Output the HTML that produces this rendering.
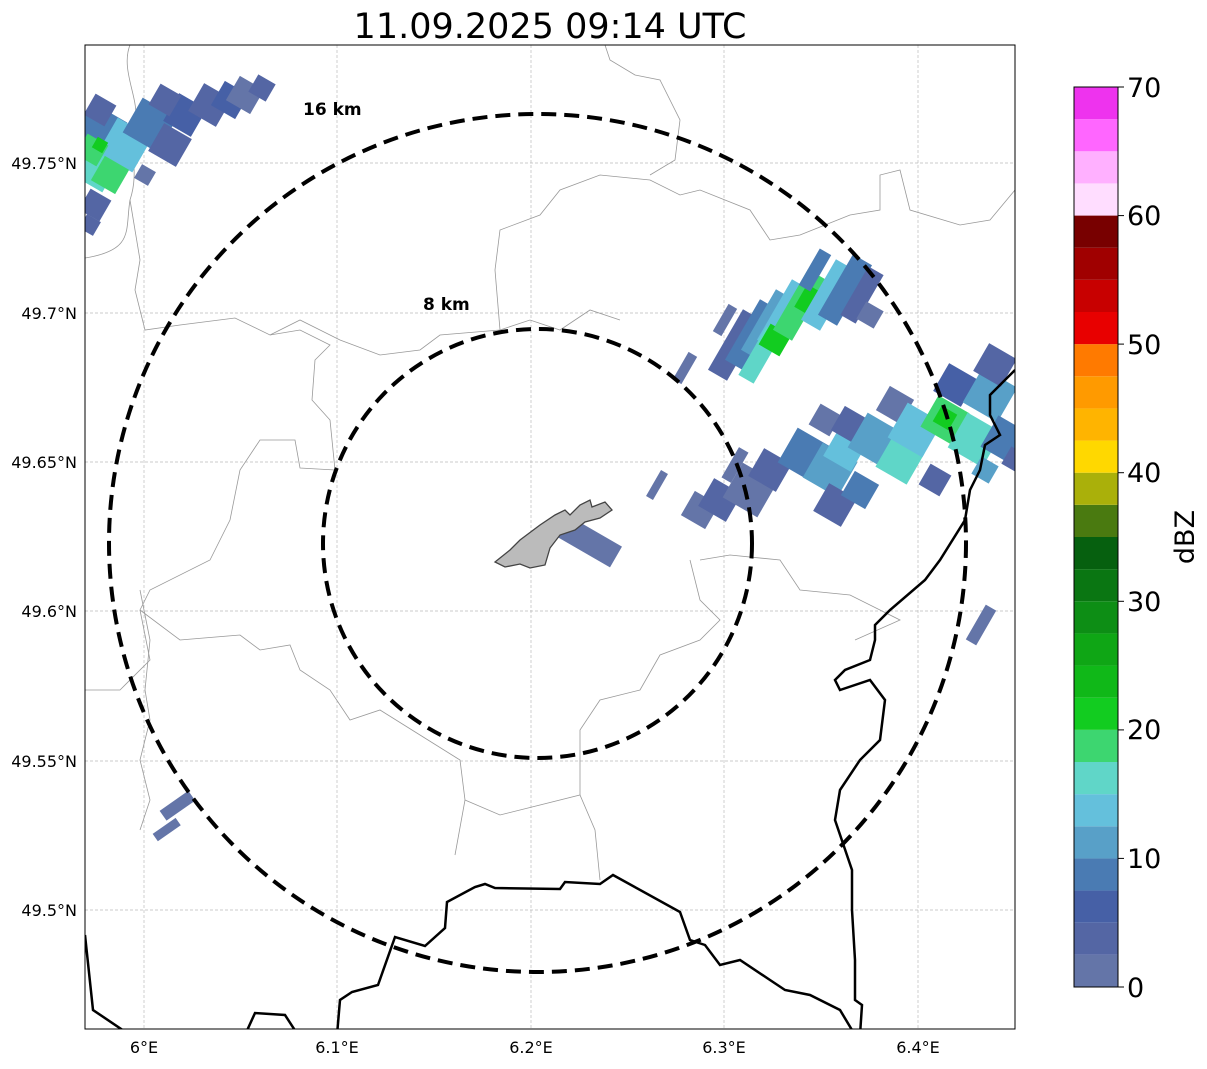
<!DOCTYPE html>
<html><head><meta charset="utf-8"><style>
body{margin:0;background:#fff;width:1207px;height:1064px;overflow:hidden}
</style></head><body>
<svg width="1207" height="1064" xmlns="http://www.w3.org/2000/svg" font-family="DejaVu Sans, Liberation Sans, sans-serif">
<text x="550" y="38" font-size="35" text-anchor="middle">11.09.2025 09:14 UTC</text>
<defs>
<clipPath id="m"><rect x="85" y="45" width="930" height="984"/></clipPath>
<rect id="s" x="-20" y="-20" width="40" height="40"/>
<rect id="t" x="-11" y="-35" width="22" height="70"/>
</defs>
<g clip-path="url(#m)">
<g stroke="#bbb" stroke-width="0.7" stroke-dasharray="3,2">
<line x1="144" y1="45" x2="144" y2="1029"/><line x1="337" y1="45" x2="337" y2="1029"/><line x1="531" y1="45" x2="531" y2="1029"/><line x1="724" y1="45" x2="724" y2="1029"/><line x1="918" y1="45" x2="918" y2="1029"/>
<line x1="85" y1="163" x2="1015" y2="163"/><line x1="85" y1="313" x2="1015" y2="313"/><line x1="85" y1="462" x2="1015" y2="462"/><line x1="85" y1="611" x2="1015" y2="611"/><line x1="85" y1="761" x2="1015" y2="761"/><line x1="85" y1="910" x2="1015" y2="910"/>
</g>
<g fill="none" stroke="#999" stroke-width="0.8">
<path d="M130,45 C120,70 140,100 135,120 C128,150 140,170 130,200 C125,230 135,250 85,258"/>
<path d="M130,200 L140,260 L135,290 L145,330 L180,325 L235,318 L270,335 L300,330 L330,345 L315,360 L312,400 L330,420 L335,470 L300,468 L295,440 L260,440 L240,470 L230,520 L210,560 L150,590 L140,610 L150,660 L120,690 L85,690"/>
<path d="M270,335 L300,320 L340,340 L380,355 L420,350 L440,335 L500,330 L530,320 L560,330 L590,310 L620,320"/>
<path d="M500,330 L495,270 L500,230 L540,215 L560,190 L600,175 L650,180 L680,195 L700,190 L750,210 L770,240 L800,235 L850,215 L880,210 L880,175 L900,170 L910,210 L960,225 L990,220 L1015,190"/>
<path d="M605,45 L610,60 L635,75 L660,80 L680,120 L675,160 L650,175"/>
<path d="M140,610 L180,640 L240,635 L260,650 L290,645 L300,670 L330,690 L350,720 L380,710 L420,735 L460,760 L465,800 L455,855"/>
<path d="M465,800 L500,815 L540,805 L580,795 L595,830 L600,880"/>
<path d="M690,560 L700,600 L720,620 L700,640 L660,655 L640,690 L600,700 L580,730 L580,795"/>
<path d="M700,560 L730,555 L780,560 L800,590 L850,595 L880,610 L900,620 L855,640"/>
<path d="M140,590 L150,640 L145,690 L150,720 L140,760 L150,800 L140,830"/>
</g>
<g>
<use href="#s" transform="translate(100,130) rotate(30)" fill="#4a7bb3"/>
<use href="#s" transform="translate(95,165) rotate(30)" fill="#5fd6c8"/>
<use href="#s" transform="translate(125,145) rotate(30)" fill="#64c0dc"/>
<use href="#s" transform="translate(92,150) rotate(30) scale(0.6)" fill="#3dd670"/>
<use href="#s" transform="translate(100,145) rotate(30) scale(0.3)" fill="#12cc20"/>
<use href="#s" transform="translate(110,175) rotate(30) scale(0.7)" fill="#3dd670"/>
<use href="#s" transform="translate(150,125) rotate(30)" fill="#4a7bb3"/>
<use href="#s" transform="translate(170,145) rotate(30) scale(0.8)" fill="#5466a4"/>
<use href="#s" transform="translate(185,115) rotate(30) scale(0.8)" fill="#4660a6"/>
<use href="#s" transform="translate(165,100) rotate(30) scale(0.6)" fill="#5466a4"/>
<use href="#s" transform="translate(210,105) rotate(30) scale(0.8)" fill="#5466a4"/>
<use href="#s" transform="translate(230,100) rotate(30) scale(0.7)" fill="#4660a6"/>
<use href="#s" transform="translate(245,95) rotate(30) scale(0.7)" fill="#6475a8"/>
<use href="#s" transform="translate(262,88) rotate(30) scale(0.5)" fill="#5466a4"/>
<use href="#s" transform="translate(95,205) rotate(30) scale(0.6)" fill="#5466a4"/>
<use href="#s" transform="translate(90,225) rotate(30) scale(0.4)" fill="#5466a4"/>
<use href="#s" transform="translate(145,175) rotate(30) scale(0.4)" fill="#6475a8"/>
<use href="#s" transform="translate(100,110) rotate(30) scale(0.6)" fill="#5466a4"/>
</g>
<g>
<use href="#t" transform="translate(735,345) rotate(30)" fill="#5466a4"/>
<use href="#t" transform="translate(752,335) rotate(30)" fill="#4a7bb3"/>
<use href="#t" transform="translate(768,325) rotate(30)" fill="#58a0c8"/>
<use href="#t" transform="translate(784,315) rotate(30)" fill="#64c0dc"/>
<use href="#t" transform="translate(760,355) rotate(30) scale(0.8)" fill="#5fd6c8"/>
<use href="#s" transform="translate(775,340) rotate(30) scale(0.6)" fill="#12cc20"/>
<use href="#t" transform="translate(800,305) rotate(30)" fill="#3dd670"/>
<use href="#s" transform="translate(812,302) rotate(30) scale(0.65)" fill="#12cc20"/>
<use href="#t" transform="translate(828,295) rotate(30)" fill="#64c0dc"/>
<use href="#t" transform="translate(845,290) rotate(30)" fill="#4a7bb3"/>
<use href="#t" transform="translate(862,295) rotate(30) scale(0.8)" fill="#5466a4"/>
<use href="#t" transform="translate(815,270) rotate(30) scale(0.6)" fill="#4a7bb3"/>
<use href="#s" transform="translate(870,315) rotate(30) scale(0.5)" fill="#6475a8"/>
<use href="#t" transform="translate(725,320) rotate(30) scale(0.45)" fill="#6475a8"/>
<use href="#t" transform="translate(685,368) rotate(30) scale(0.45)" fill="#6475a8"/>
</g>
<g>
<use href="#s" transform="translate(700,510) rotate(30) scale(0.7)" fill="#6475a8"/>
<use href="#s" transform="translate(720,500) rotate(30) scale(0.8)" fill="#5466a4"/>
<use href="#s" transform="translate(750,490) rotate(30)" fill="#6475a8"/>
<use href="#s" transform="translate(770,470) rotate(30) scale(0.8)" fill="#5466a4"/>
<use href="#t" transform="translate(735,465) rotate(30) scale(0.5)" fill="#6475a8"/>
<use href="#s" transform="translate(805,455) rotate(30)" fill="#4a7bb3"/>
<use href="#s" transform="translate(830,470) rotate(30)" fill="#58a0c8"/>
<use href="#s" transform="translate(845,450) rotate(30) scale(0.8)" fill="#64c0dc"/>
<use href="#s" transform="translate(835,505) rotate(30) scale(0.8)" fill="#5466a4"/>
<use href="#s" transform="translate(860,490) rotate(30) scale(0.7)" fill="#4a7bb3"/>
<use href="#s" transform="translate(825,420) rotate(30) scale(0.6)" fill="#6475a8"/>
<use href="#s" transform="translate(850,425) rotate(30) scale(0.7)" fill="#5466a4"/>
<use href="#s" transform="translate(875,440) rotate(30)" fill="#58a0c8"/>
<use href="#s" transform="translate(895,405) rotate(30) scale(0.7)" fill="#6475a8"/>
<use href="#s" transform="translate(900,460) rotate(30) scale(0.9)" fill="#5fd6c8"/>
<use href="#s" transform="translate(915,430) rotate(30)" fill="#64c0dc"/>
<use href="#s" transform="translate(935,480) rotate(30) scale(0.6)" fill="#5466a4"/>
<use href="#s" transform="translate(945,420) rotate(30) scale(0.9)" fill="#3dd670"/>
<use href="#s" transform="translate(945,418) rotate(30) scale(0.45)" fill="#12cc20"/>
<use href="#s" transform="translate(955,385) rotate(30) scale(0.8)" fill="#4660a6"/>
<use href="#s" transform="translate(975,440) rotate(30)" fill="#5fd6c8"/>
<use href="#s" transform="translate(990,395) rotate(30)" fill="#58a0c8"/>
<use href="#s" transform="translate(995,365) rotate(30) scale(0.8)" fill="#5466a4"/>
<use href="#s" transform="translate(1005,440) rotate(30) scale(0.9)" fill="#4a7bb3"/>
<use href="#s" transform="translate(985,470) rotate(30) scale(0.5)" fill="#58a0c8"/>
<use href="#s" transform="translate(1015,460) rotate(30) scale(0.5)" fill="#5466a4"/>
</g>
<rect x="653" y="470" width="8" height="30" fill="#6475a8" transform="rotate(30 657 485)"/>
<rect x="975" y="605" width="12" height="40" fill="#6475a8" transform="rotate(30 981 625)"/>
<rect x="560" y="530" width="60" height="24" fill="#6475a8" transform="rotate(30 590 542)"/>
<rect x="160" y="800" width="35" height="12" fill="#6475a8" transform="rotate(-35 177 806)"/>
<rect x="153" y="825" width="28" height="9" fill="#6475a8" transform="rotate(-35 167 830)"/>
<path d="M495,562 L510,550 L520,540 L540,525 L555,515 L565,510 L570,515 L580,505 L590,500 L592,507 L605,502 L612,510 L600,518 L585,522 L575,530 L560,535 L550,548 L545,565 L530,568 L520,564 L505,567 Z" fill="#bbb" stroke="#444" stroke-width="1.3"/>
<g fill="none" stroke="#000" stroke-width="2.5">
<path d="M85,935 L93,1010 L130,1035 M245,1035 L255,1013 L285,1015 L298,1035 M337,1035 L340,1000 L352,992 L378,985 L395,937 L425,946 L445,928 L447,902 L475,887 L485,884 L495,888 L560,889 L565,882 L600,884 L613,875 L680,912 L690,940 L705,945 L720,965 L740,960 L770,980 L785,990 L810,995 L840,1010 L855,1035"/>
<path d="M860,1035 L862,1005 L855,1000 L855,960 L852,910 L852,870 L835,820 L840,790 L860,760 L880,740 L885,700 L870,680 L840,690 L835,680 L845,670 L870,660 L875,640 L875,625 L890,610 L925,580 L940,560 L965,520 L970,490 L980,470 L985,445 L1000,435 L990,415 L990,395 L1005,380 L1015,370"/>
</g>
<ellipse cx="537.5" cy="543" rx="428.5" ry="429" fill="none" stroke="#000" stroke-width="4" stroke-dasharray="15,8"/>
<circle cx="537.5" cy="543.5" r="214.5" fill="none" stroke="#000" stroke-width="4" stroke-dasharray="15,8"/>
<text x="303" y="115" font-size="17" font-weight="bold">16 km</text>
<text x="423" y="310" font-size="17" font-weight="bold">8 km</text>
</g>
<rect x="85" y="45" width="930" height="984" fill="none" stroke="#000" stroke-width="1"/>
<g font-size="16" text-anchor="end">
<text x="77" y="169">49.75°N</text><text x="77" y="319">49.7°N</text><text x="77" y="468">49.65°N</text><text x="77" y="617">49.6°N</text><text x="77" y="767">49.55°N</text><text x="77" y="916">49.5°N</text>
</g>
<g font-size="16" text-anchor="middle">
<text x="144" y="1053">6°E</text><text x="337" y="1053">6.1°E</text><text x="531" y="1053">6.2°E</text><text x="724" y="1053">6.3°E</text><text x="918" y="1053">6.4°E</text>
</g>
<g>
<rect x="1074" y="954.86" width="44" height="32.14" fill="#6475a8"/>
<rect x="1074" y="922.71" width="44" height="32.14" fill="#5466a4"/>
<rect x="1074" y="890.57" width="44" height="32.14" fill="#4660a6"/>
<rect x="1074" y="858.43" width="44" height="32.14" fill="#4a7bb3"/>
<rect x="1074" y="826.29" width="44" height="32.14" fill="#58a0c8"/>
<rect x="1074" y="794.14" width="44" height="32.14" fill="#64c0dc"/>
<rect x="1074" y="762" width="44" height="32.14" fill="#60d6c8"/>
<rect x="1074" y="729.86" width="44" height="32.14" fill="#3dd670"/>
<rect x="1074" y="697.71" width="44" height="32.14" fill="#12cc20"/>
<rect x="1074" y="665.57" width="44" height="32.14" fill="#10b818"/>
<rect x="1074" y="633.43" width="44" height="32.14" fill="#0fa615"/>
<rect x="1074" y="601.29" width="44" height="32.14" fill="#0d8e15"/>
<rect x="1074" y="569.14" width="44" height="32.14" fill="#0a7612"/>
<rect x="1074" y="537" width="44" height="32.14" fill="#06600f"/>
<rect x="1074" y="504.86" width="44" height="32.14" fill="#4a7a10"/>
<rect x="1074" y="472.71" width="44" height="32.14" fill="#aab00a"/>
<rect x="1074" y="440.57" width="44" height="32.14" fill="#ffd800"/>
<rect x="1074" y="408.43" width="44" height="32.14" fill="#ffb400"/>
<rect x="1074" y="376.29" width="44" height="32.14" fill="#ff9a00"/>
<rect x="1074" y="344.14" width="44" height="32.14" fill="#ff7a00"/>
<rect x="1074" y="312" width="44" height="32.14" fill="#e80000"/>
<rect x="1074" y="279.86" width="44" height="32.14" fill="#c80000"/>
<rect x="1074" y="247.71" width="44" height="32.14" fill="#a00000"/>
<rect x="1074" y="215.57" width="44" height="32.14" fill="#780000"/>
<rect x="1074" y="183.43" width="44" height="32.14" fill="#ffddff"/>
<rect x="1074" y="151.29" width="44" height="32.14" fill="#ffb0ff"/>
<rect x="1074" y="119.14" width="44" height="32.14" fill="#ff66ff"/>
<rect x="1074" y="87" width="44" height="32.14" fill="#ee33ee"/>
<rect x="1074" y="87" width="44" height="900" fill="none" stroke="#000" stroke-width="1"/>
<g stroke="#000" stroke-width="1">
<line x1="1118" y1="87" x2="1124" y2="87"/><line x1="1118" y1="215.6" x2="1124" y2="215.6"/><line x1="1118" y1="344.1" x2="1124" y2="344.1"/><line x1="1118" y1="472.7" x2="1124" y2="472.7"/><line x1="1118" y1="601.3" x2="1124" y2="601.3"/><line x1="1118" y1="729.9" x2="1124" y2="729.9"/><line x1="1118" y1="858.4" x2="1124" y2="858.4"/><line x1="1118" y1="987" x2="1124" y2="987"/>
</g>
<g font-size="27">
<text x="1127" y="97">70</text><text x="1127" y="225">60</text><text x="1127" y="354">50</text><text x="1127" y="482">40</text><text x="1127" y="611">30</text><text x="1127" y="739">20</text><text x="1127" y="868">10</text><text x="1127" y="997">0</text>
</g>
<text x="1194" y="537" font-size="27" text-anchor="middle" transform="rotate(-90 1194 537)">dBZ</text>
</g>
</svg>
</body></html>
